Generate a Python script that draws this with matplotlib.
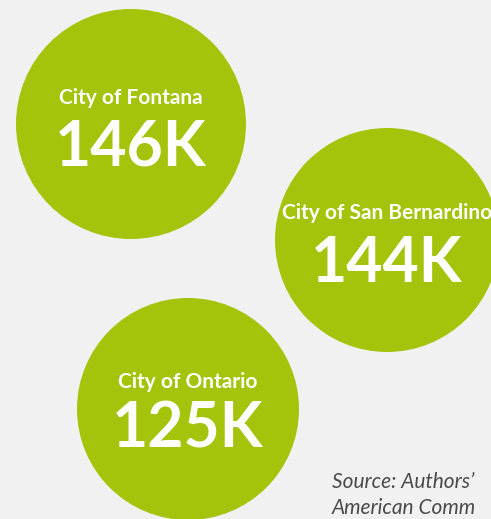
import matplotlib
matplotlib.use("Agg")
import matplotlib.pyplot as plt
from matplotlib.patches import Circle

# 数据
cities = ["City of Fontana", "City of San Bernardino", "City of Ontario"]
population_k = [146, 144, 125]
source_lines = ["Source: Authors\u2019", "American Comm"]

# 布局（像素坐标）
centers = [(131, 124), (387, 240), (188, 409)]
radii = [115, 112, 111]
name_y = [98, 213, 382]
value_y = [147, 264, 429]

green = "#a3c40a"
bg = "#f1f1f1"
font = ["Lato", "DejaVu Sans"]

fig = plt.figure(figsize=(4.91, 5.19), dpi=100, facecolor=bg)
ax = fig.add_axes([0, 0, 1, 1])
ax.set_facecolor(bg)
ax.set_xlim(0, 491)
ax.set_ylim(519, 0)
ax.set_aspect("equal")
ax.axis("off")

for i, city in enumerate(cities):
    cx, cy = centers[i]
    ax.add_patch(Circle((cx, cy), radii[i], color=green, lw=0))
    ax.text(cx, name_y[i], city, ha="center", va="center", color="white",
            fontsize=15, fontweight="bold", family=font)
    ax.text(cx, value_y[i], f"{population_k[i]}K", ha="center", va="center",
            color="white", fontsize=45, fontweight="bold", family=font)

for j, line in enumerate(source_lines):
    ax.text(332, 482 + j * 26, line, ha="left", va="center", color="#4a4a4a",
            fontsize=15, fontstyle="italic", family=font)

fig.savefig("out.png", dpi=100, facecolor=bg)
